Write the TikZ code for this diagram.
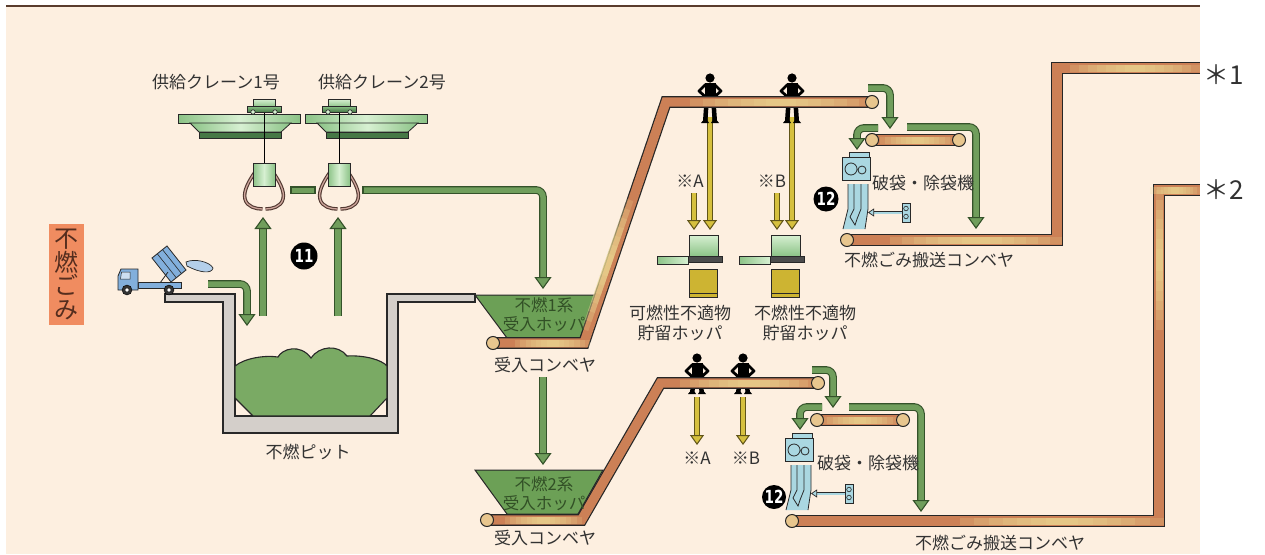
\documentclass[tikz,border=0pt]{standalone}
\usepackage{fontspec}
\setmainfont{Noto Sans CJK JP}
\newfontfamily\numfont{DejaVu Sans}[FakeStretch=0.75]
\usetikzlibrary{arrows.meta,calc}

\definecolor{bg}{RGB}{253,239,224}
\definecolor{frameline}{RGB}{90,60,45}
\definecolor{txt}{RGB}{50,50,50}
\definecolor{gfill}{RGB}{112,158,92}
\definecolor{gdark}{RGB}{52,82,42}
\definecolor{yfill}{RGB}{214,192,62}
\definecolor{ydark}{RGB}{96,84,24}
\definecolor{hopfill}{RGB}{108,160,86}
\definecolor{hoptext}{RGB}{50,80,38}
\definecolor{pilefill}{RGB}{122,170,100}
\definecolor{pitgray}{RGB}{212,207,202}
\definecolor{outline}{RGB}{40,40,40}
\definecolor{beltbrown}{RGB}{204,128,86}
\definecolor{beltlight}{RGB}{238,220,150}
\definecolor{roller}{RGB}{232,198,142}
\definecolor{lgreen}{RGB}{215,240,210}
\definecolor{mgreen}{RGB}{140,195,135}
\definecolor{dgreen}{RGB}{70,120,70}
\definecolor{lblue}{RGB}{170,215,225}
\definecolor{truckblue}{RGB}{130,175,220}
\definecolor{clawbrown}{RGB}{80,55,48}
\definecolor{clawpink}{RGB}{205,165,155}
\definecolor{tagorange}{RGB}{240,140,96}
\definecolor{tagtext}{RGB}{85,45,30}
\definecolor{binyellow}{RGB}{205,180,50}

% pale sheen along one straight stretch of a belt, brightest at its middle
\newcommand\beltshine[2]{%
  \foreach \t in {0,0.07,0.14,0.21,0.28,0.35,0.42}{%
    \draw[beltlight, line width=7pt, opacity=0.2] ($(#1)!\t!(#2)$) -- ($(#2)!\t!(#1)$);}}

\tikzset{
  lbl/.style={text=txt, font=\fontsize{17}{20}\selectfont, inner sep=0pt, align=center},
  hoplbl/.style={text=hoptext, font=\fontsize{16.5}{19}\selectfont, inner sep=0pt, align=center},
  garrow/.style={draw=gdark, double=gfill, double distance=5.5pt, line width=1.1pt, rounded corners=7pt,
    -{Triangle[width=17pt,length=12pt,fill=gfill,color=gdark,line width=1.1pt]}},
  yarrow/.style={draw=ydark, double=yfill, double distance=4.8pt, line width=1pt,
    -{Triangle[width=14pt,length=10pt,fill=yfill,color=ydark,line width=1pt]}},
  belt/.style={draw=black!85, double=beltbrown, double distance=9.4pt, line width=1.2pt},
  roll/.style={draw=black!85, fill=roller, line width=1pt},
  num/.style={circle, fill=black, text=white, inner sep=0pt, minimum size=#1,
    font=\numfont\bfseries\fontsize{18}{18}\selectfont},
  pics/worker/.style={code={
    \fill (0,-19) circle (4.6);
    \fill (-5.5,-14.5) rectangle (5.5,2);
    \draw[line width=2.8pt, line join=round, line cap=round] (4.5,-12.5) -- (11,-6) -- (5.5,-1);
    \draw[line width=2.8pt, line join=round, line cap=round] (-4.5,-12.5) -- (-11,-6) -- (-5.5,-1);
    \fill (-6,9) -- (-1.5,9) -- (-2.5,{9+#1-2.5}) -- (-1,{9+#1}) -- (-9,{9+#1}) -- (-7,{9+#1-2.5}) -- cycle;
    \fill (6,9) -- (1.5,9) -- (2.5,{9+#1-2.5}) -- (1,{9+#1}) -- (9,{9+#1}) -- (7,{9+#1-2.5}) -- cycle;
  }},
  pics/girder/.style={code={
    \shadedraw[left color=mgreen, right color=mgreen, middle color=lgreen, draw=outline, line width=0.8pt]
      (0,0) rectangle (122,9);
    \shadedraw[left color=mgreen, right color=mgreen, middle color=lgreen, draw=outline, line width=0.8pt]
      (12,9) -- (113,9) -- (103,18) -- (21,18) -- cycle;
    \filldraw[fill=dgreen, draw=outline, line width=0.8pt] (21,18) rectangle (103,24);
  }},
  pics/trolley/.style={code={
    \shadedraw[top color=lgreen, bottom color=mgreen, draw=outline, line width=0.7pt] (-11,0) rectangle (11,8);
    \shadedraw[top color=mgreen, bottom color=dgreen, draw=outline, line width=0.7pt] (-17,7) rectangle (17,13);
    \filldraw[fill=lgreen, draw=outline, line width=0.6pt] (-11,13) circle (2.2) (11,13) circle (2.2);
  }},
  pics/grab/.style={code={
    \foreach \s in {1,-1}{
      \draw[draw=clawbrown, double=clawpink, double distance=1.3pt, line width=1.1pt, xscale=\s]
        (-9,9) .. controls (-15,18) and (-21,28) .. (-19,36) .. controls (-17,44) and (-8,46) .. (-1.5,46);
    }
    \shadedraw[left color=mgreen, right color=mgreen, middle color=lgreen, draw=outline, line width=0.8pt]
      (-11,0) rectangle (11,23);
  }},
  pics/station/.style={code={
    \shadedraw[top color=lgreen, bottom color=mgreen, draw=outline, line width=0.8pt] (0,0) rectangle (29,21);
    \shadedraw[left color=mgreen, right color=lgreen, draw=outline, line width=0.8pt] (-32,21) rectangle (-1,29);
    \filldraw[fill=black!70, draw=outline, line width=0.8pt] (-1,21) rectangle (33,27);
    \filldraw[fill=binyellow, draw=outline, line width=0.8pt] (0,34) rectangle (28,62);
    \draw[outline, line width=0.8pt] (0,58) -- (28,58);
  }},
  pics/breaker/.style={code={
    \filldraw[fill=lblue, draw=outline, line width=0.8pt] (7,-5) rectangle (27,0);
    \filldraw[fill=lblue, draw=outline, line width=0.8pt] (0,0) rectangle (28,23);
    \draw[outline, line width=0.8pt] (9,12) circle (6) (20,13) circle (4);
    \fill[lblue] (6,27) -- (26,27) -- (26,52) -- (23,72) -- (1,72) -- (6,52) -- cycle;
    \draw[outline, line width=0.8pt] (6,27) -- (6,52) -- (1,72) (26,27) -- (26,52) -- (23,72);
    \draw[outline, line width=0.8pt] (12,27) -- (12,52) -- (8,60);
    \draw[outline, line width=0.8pt] (19,27) -- (19,52) -- (15,62);
    \draw[outline, line width=0.8pt] (8,60) -- (13,68) -- (15,62);
    \filldraw[fill=lblue, draw=outline, line width=0.8pt] (60,46) rectangle (68,65);
    \draw[outline, line width=0.6pt] (64,51.5) circle (2.3) (64,59.5) circle (2.3);
    \draw[draw=outline, double=lblue, double distance=2pt, line width=0.8pt,
      -{Triangle[width=8pt,length=6pt,fill=lblue,color=outline,line width=0.7pt]}] (60,55.5) -- (26,55.5);
  }}
}

\begin{document}
\begin{tikzpicture}[x=1pt, y=-1pt]
\useasboundingbox (0,0) rectangle (1265,554);

% sheet and top rule
\fill[bg] (6,6) rectangle (1200,554);
\draw[frameline, line width=1.2pt] (6,6) -- (1200,6);

% vertical tag
\node[fill=tagorange, text=tagtext, minimum width=35pt, minimum height=101pt, inner sep=0pt,
  align=center, font=\fontsize{24}{23.5}\selectfont] (tag) at (66.5,274.5) {不\\燃\\ご\\み};

% pit walls and refuse pile
\filldraw[fill=pitgray, draw=outline, line width=1.2pt]
  (165,294) -- (235,294) -- (235,416) -- (387,416) -- (387,294) -- (475,294) -- (475,302)
  -- (398,302) -- (398,433) -- (223,433) -- (223,302) -- (165,302) -- cycle;
\filldraw[fill=pilefill, draw=outline, line width=1.1pt]
  (235,398) -- (235,366) .. controls (245,358) and (265,355) .. (278,357)
  .. controls (282,349) and (300,343) .. (311,358)
  .. controls (319,346) and (338,344) .. (347,356)
  .. controls (365,355) and (382,360) .. (387,366) -- (387,398) -- (370,416) -- (253,416) -- cycle;

% dump truck
\filldraw[fill=truckblue!60, draw=outline, line width=0.7pt]
  (186,262) .. controls (195,258) and (210,262) .. (213,268) .. controls (212,274) and (200,273) .. (187,266) -- cycle;
\filldraw[fill=truckblue, draw=outline, line width=0.8pt] (152,258) -- (167,246) -- (186,270) -- (171,282) -- cycle;
\draw[outline, line width=0.6pt] (157.3,253.8) -- (176.3,277.8) (162.5,249.6) -- (181.5,273.6);
\draw[outline, line width=0.8pt] (160,283) -- (168,272);
\filldraw[fill=truckblue, draw=outline, line width=0.8pt] (138,282) rectangle (181,288);
\filldraw[fill=truckblue, draw=outline, line width=0.8pt] (118,290) -- (118,276) -- (121,269) -- (138,269) -- (138,290) -- cycle;
\filldraw[fill=white!60!truckblue, draw=outline, line width=0.5pt] (121.5,272) -- (130,272) -- (130,279) -- (120.5,279) -- cycle;
\filldraw[fill=black!80, draw=black] (127,290) circle (5) (169,290) circle (5);
\fill[white] (127,290) circle (1.8) (169,290) circle (1.8);

% supply cranes
\pic at (178,114) {girder};
\pic at (305,114) {girder};
\draw[black, line width=0.8pt] (264,110) -- (264,163) (339,110) -- (339,163);
\pic at (264,99) {trolley};
\pic at (339,99) {trolley};
\pic at (264,163) {grab};
\pic at (339,163) {grab};

% named ends of the flow arrows
\coordinate (truckout) at (208,284);  \coordinate (pitin) at (247,326);
\coordinate (pitup1) at (263,316);    \coordinate (grab1in) at (263,217);
\coordinate (pitup2) at (338,316);    \coordinate (grab2in) at (338,217);
\coordinate (grab2out) at (363,190);  \coordinate (hop1in) at (543,289);
\coordinate (conv1out) at (543,377);  \coordinate (hop2in) at (543,465);
\coordinate (u1end) at (868,88);      \coordinate (u2mid) at (890,129);
\coordinate (u2left) at (878,128);    \coordinate (bb1in) at (857,150);
\coordinate (u2right) at (907,127);   \coordinate (u3in) at (976,229);
\coordinate (l1end) at (812,370);     \coordinate (l2mid) at (833,408);
\coordinate (l2left) at (822,407);    \coordinate (bb2in) at (800,430);
\coordinate (l2right) at (849,407);   \coordinate (l3in) at (921,512);
\coordinate (p1) at (710,117);  \coordinate (bin1a) at (710,230);
\coordinate (p2) at (792,117);  \coordinate (bin2a) at (792,230);
\coordinate (ya) at (694,193);  \coordinate (bin1b) at (694,230);
\coordinate (yb) at (777,193);  \coordinate (bin2b) at (777,230);
\coordinate (p3) at (697,397);  \coordinate (outA) at (697,445);
\coordinate (p4) at (743,397);  \coordinate (outB) at (743,445);

% green flow arrows, left part
\draw[garrow] (truckout) -| (pitin);
\draw[garrow] (pitup1) -- (grab1in);
\draw[garrow] (pitup2) -- (grab2in);
\filldraw[fill=gfill, draw=gdark, line width=1.1pt] (291,187) rectangle (315,193.5);
\draw[garrow] (grab2out) -| (hop1in);
\draw[gdark, line width=1.1pt] (363,186.3) -- (363,193.7);
\draw[garrow] (conv1out) -- (hop2in);

% receiving hoppers
\filldraw[fill=hopfill, draw=outline, line width=1pt] (475,295) -- (596,295) -- (580,338) -- (507,338) -- cycle;
\filldraw[fill=hopfill, draw=outline, line width=1pt] (475,470) -- (603,470) -- (578,514) -- (507,514) -- cycle;

% sorting drop arrows
\draw[yarrow] (p1) -- (bin1a);
\draw[yarrow] (p2) -- (bin2a);
\draw[yarrow] (ya) -- (bin1b);
\draw[yarrow] (yb) -- (bin2b);
\draw[yarrow] (p3) -- (outA);
\draw[yarrow] (p4) -- (outB);

% sorting workers
\pic at (710,97) {worker=17};
\pic at (792,97) {worker=17};
\pic at (697,377) {worker=8};
\pic at (743,377) {worker=8};

% conveyors
\draw[belt] (493,343) -- (584,343) -- (666,102) -- (872,102);
\draw[belt] (487,520) -- (581.5,520) -- (660.5,383) -- (818,383);
\draw[belt] (872,140) -- (959,140);
\draw[belt] (817,420) -- (903,420);
\draw[belt] (847,240) -- (1057,240) -- (1057,68) -- (1200,68);
\draw[belt] (792,521) -- (1159,521) -- (1159,190) -- (1200,190);
\beltshine{515,343}{590,343}
\beltshine{585,330}{630,200}
\beltshine{690,102}{872,102}
\beltshine{505,520}{582,520}
\beltshine{680,383}{818,383}
\beltshine{880,140}{955,140}
\beltshine{822,420}{898,420}
\beltshine{890,240}{1062,240}
\beltshine{1070,68}{1200,68}
\beltshine{960,521}{1164,521}
\beltshine{1159,330}{1159,190}
\beltshine{1150,190}{1200,190}
\foreach \c in {(493,343),(872,102),(487,520),(818,383),(872,140),(959,140),(817,420),(903,420),(847,240),(792,521)}
  \draw[roll] \c circle (6.5);

% storage hoppers
\pic at (689,235) {station};
\pic at (771,235) {station};

% bag openers
\pic at (842,157) {breaker};
\pic at (785,438) {breaker};

% green flow arrows, right part
\draw[garrow] (u1end) -| (u2mid);
\draw[garrow] (u2left) -| (bb1in);
\draw[garrow] (u2right) -| (u3in);
\draw[garrow] (l1end) -| (l2mid);
\draw[garrow] (l2left) -| (bb2in);
\draw[garrow] (l2right) -| (l3in);

% labels
\node[lbl] (crane1lbl) at (216,82) {供給クレーン1号};
\node[lbl] (crane2lbl) at (382,82) {供給クレーン2号};
\node[lbl] (pitlbl) at (308,452) {不燃ピット};
\node[lbl] (conv1lbl) at (545,365) {受入コンベヤ};
\node[lbl] (conv2lbl) at (545,538) {受入コンベヤ};
\node[hoplbl] (hop1lbl) at (544,315) {不燃1系\\受入ホッパ};
\node[hoplbl] (hop2lbl) at (544,494) {不燃2系\\受入ホッパ};
\node[lbl] (bin1lbl) at (680,323) {可燃性不適物\\貯留ホッパ};
\node[lbl] (bin2lbl) at (805,323) {不燃性不適物\\貯留ホッパ};
\node[lbl] (markA1) at (690,181) {※A};
\node[lbl] (markB1) at (772,181) {※B};
\node[lbl] (markA2) at (697,458) {※A};
\node[lbl] (markB2) at (746,458) {※B};
\node[lbl] (bb1lbl) at (923,183) {破袋・除袋機};
\node[lbl] (bb2lbl) at (868,463) {破袋・除袋機};
\node[lbl] (carry1lbl) at (929,260) {不燃ごみ搬送コンベヤ};
\node[lbl] (carry2lbl) at (1000,543) {不燃ごみ搬送コンベヤ};
\node[anchor=west, inner sep=0pt, text=txt, font=\fontsize{26}{26}\selectfont] (out1) at (1203,75) {＊1};
\node[anchor=west, inner sep=0pt, text=txt, font=\fontsize{26}{26}\selectfont] (out2) at (1203,190) {＊2};

% step numbers
\node[num=27pt] (num11) at (304,256) {11};
\node[num=25pt] (num12a) at (826,199) {12};
\node[num=24pt] (num12b) at (774,497) {12};
\end{tikzpicture}
\end{document}
